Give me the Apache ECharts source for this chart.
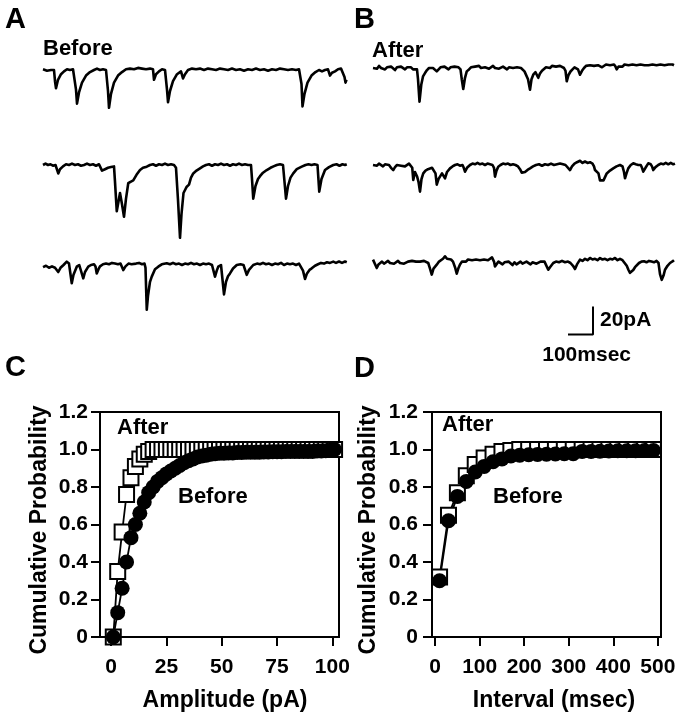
<!DOCTYPE html>
<html><head><meta charset="utf-8">
<script src="https://cdn.jsdelivr.net/npm/echarts@6/dist/echarts.min.js"></script>
<style>html,body{margin:0;padding:0;background:#fff}#c{width:679px;height:719px}</style>
</head><body><div id="c"></div>
<script>
// ---- Traces: [time (ms), current (pA)] ----
const traceA1 = [[0,0.5],[8,1],[16,-0.5],[24,0.5],[32,0],[40,-0.5],[44,0],[48,-8],[52,-13],[60,-7],[72,-3],[84,-1],[96,0.5],[108,0],[120,0.5],[128,0],[132,-14],[136,-24],[144,-16],[156,-9],[172,-4],[188,-1.5],[204,0],[216,1],[228,0],[240,0.5],[252,0],[256,0],[260,-15],[264,-27],[272,-17],[284,-9],[300,-4],[316,-1.5],[332,0.5],[348,1],[364,0.5],[380,1.5],[396,1],[412,0.5],[428,1],[436,0],[440,0.5],[444,-7],[452,-3],[464,-1],[476,0.5],[488,0],[492,0],[496,-14],[500,-23],[508,-15],[520,-8],[536,-3],[552,-1],[560,-6],[568,-3],[580,0],[596,1],[612,0.5],[628,1],[644,0],[660,1],[676,0.5],[692,0],[708,1],[724,0.5],[740,0],[756,1],[772,0],[788,0.5],[804,-0.5],[820,0.5],[836,0],[852,1],[868,0],[884,0.5],[900,-0.5],[916,0.5],[932,0],[948,1],[964,0.5],[980,0],[996,0.5],[1012,0],[1024,0.5],[1030,0],[1034,-10],[1038,-26],[1046,-17],[1058,-9],[1074,-4],[1090,-1.5],[1104,0],[1116,-1],[1128,0],[1140,0.5],[1148,-4],[1156,-2],[1168,-1],[1180,0.5],[1192,1],[1200,0.5],[1206,-5],[1210,-9],[1214,-7]];
const traceA2 = [[0,0],[10,1],[20,0],[30,0.5],[40,-0.5],[50,0],[56,-1],[61,-6],[68,-3],[80,-1],[92,0.5],[104,0],[116,1],[128,0],[140,0.5],[152,-0.5],[164,0],[176,1],[188,0],[200,0.5],[212,-0.5],[224,0.5],[232,0],[236,-4],[248,-3],[260,-2],[272,-1.5],[284,-1],[288,-12],[295,-33],[302,-26],[308,-20],[316,-28],[324,-37],[332,-24],[341,-13],[350,-12],[361,-11],[374,-7],[388,-3.6],[400,-2],[415,-1.2],[428,0],[440,0.5],[452,-0.5],[464,0.5],[476,0],[488,1],[500,0],[512,0.5],[524,0],[532,-2],[540,-25],[548,-52],[554,-35],[562,-20],[575,-15.5],[584,-14],[592,-9],[601,-6],[614,-4],[628,-2.4],[640,-1],[652,0],[664,0.5],[676,-0.5],[688,0.5],[700,0],[712,1],[724,0],[736,0.5],[748,-0.5],[760,0.5],[772,0],[784,1],[796,0],[808,0.5],[820,0],[832,0],[836,-10],[841,-24],[850,-15],[860,-10],[868,-8],[880,-5.5],[895,-3.6],[910,-2],[922,-1],[935,0],[948,0.5],[960,0],[968,0],[972,-24],[980,-15],[990,-9],[1001,-6],[1015,-3],[1035,-1.2],[1050,0],[1062,0.5],[1074,0],[1086,0.5],[1098,0],[1105,-19],[1114,-10],[1128,-3.6],[1144,-1.5],[1161,0],[1174,0.5],[1186,-0.5],[1198,0.5],[1208,0],[1215,0.5]];
const traceA3 = [[0,-1.5],[12,-0.5],[24,-2],[36,-1],[48,-2],[56,-3],[61,-5],[70,-2],[82,0],[95,2.4],[104,1],[110,0],[115,-13],[122,-7],[135,-1.2],[145,0],[152,-1],[161,-9.5],[168,-5],[181,-1.2],[192,0],[204,0.5],[210,-1],[215,-6],[222,-3],[228,-1],[240,0.5],[252,1],[264,0.5],[276,1.5],[288,1],[300,0.5],[310,1],[321,-3.6],[330,-1],[342,1],[354,0.5],[361,1.2],[372,1],[384,1.5],[396,0.5],[406,1],[410,-2],[415,-32],[420,-22],[428,-12],[435,-8.3],[448,-3],[461,-1.2],[475,0.5],[495,1.2],[508,0.5],[520,1.5],[532,0.5],[544,1],[556,0],[568,1],[580,0.5],[592,1.5],[604,0.5],[616,1],[628,0],[640,1],[652,0.5],[664,1],[676,0],[681,-1],[688,-8.3],[695,-4],[701,-1.2],[712,0],[718,-1],[724,-21],[732,-12],[740,-8],[748,-6],[760,-2.5],[775,0],[790,0.5],[802,0],[810,-1],[815,-7],[824,-3.5],[841,0],[856,1],[868,0.5],[880,1.5],[892,0.5],[904,1],[916,0],[928,1],[940,0.5],[952,1.5],[964,0],[976,1],[988,0.5],[1000,1],[1012,0],[1024,1],[1032,0.5],[1040,-4],[1048,-10],[1056,-6],[1066,-3.5],[1075,-2.4],[1088,-0.5],[1100,0.5],[1112,1.5],[1124,1],[1136,2],[1148,1.5],[1161,2.4],[1172,1.5],[1184,2.5],[1196,1.5],[1208,2.5],[1215,2]];
const traceB1 = [[0,0],[8,1],[16,-0.5],[24,1.5],[32,0],[40,1],[48,-1],[56,0.5],[64,-0.5],[72,1],[80,0],[88,-1.5],[96,0.5],[104,-0.5],[112,1],[120,0],[128,-1],[136,0.5],[144,-0.5],[152,0.5],[160,-1],[168,-2],[176,-1],[180,-8],[186,-24],[193,-12],[200,-6],[208,-3.6],[216,-1.5],[224,0],[232,1],[240,0],[248,-1],[255,-2.4],[262,-1],[270,0.5],[278,-0.5],[286,1],[294,0],[302,-1],[310,0.5],[318,-0.5],[326,1],[334,0],[342,0.5],[350,-1],[355,-8],[361,-15],[368,-7],[375,-2.4],[384,-1],[392,0.5],[400,-0.5],[408,1],[416,0],[424,1.5],[432,0],[440,-1],[448,0.5],[456,1],[464,-0.5],[472,0.5],[480,1.5],[488,0],[496,1],[504,-0.5],[512,0.5],[520,1],[528,0],[536,-1],[544,0.5],[552,1],[560,0],[568,-0.5],[576,0.5],[584,1],[592,0],[600,-1],[606,-2.4],[614,-3],[620,-8],[628,-15.5],[634,-8],[641,-4.8],[650,-3],[661,-7],[668,-4],[676,-2],[684,-1],[692,0.5],[700,1],[708,0],[716,1.5],[724,0.5],[732,1],[740,0],[748,1.5],[756,0.5],[764,0],[770,-2],[775,-9.5],[782,-5],[790,-2.5],[798,-1],[806,0.5],[814,0],[820,-1],[828,-4.8],[836,-2],[844,0],[852,1.5],[860,0.5],[868,2],[876,1],[884,1.5],[892,0.5],[900,2],[908,1],[916,0.5],[924,1.5],[932,2.5],[940,1.5],[948,2],[956,1],[964,2.5],[970,1],[975,-1],[982,1],[990,2],[998,1],[1006,2.5],[1014,1.5],[1022,2],[1030,1],[1038,2.5],[1046,1.5],[1054,2],[1062,1],[1070,2.5],[1078,1.5],[1086,2],[1094,1],[1102,2],[1110,1.5],[1118,2.5],[1126,1.5],[1134,2],[1142,1],[1150,2.5],[1158,1.5],[1166,2],[1174,1.5],[1182,2.5],[1190,1.5],[1198,2.5],[1204,2]];
const traceB2 = [[0,0],[8,1],[16,-0.5],[24,1],[32,0],[40,-1],[48,0.5],[56,-0.5],[64,0],[72,-2],[81,-3.6],[88,-1.5],[96,0],[104,1],[112,-0.5],[120,0.5],[128,-1],[136,0],[144,1],[152,0],[157,-2],[161,-10.7],[168,-5],[176,-8],[182,-12],[188,-19],[194,-10],[201,-6],[210,-4],[220,-3],[228,-3.6],[236,-2],[244,-3],[250,-6],[255,-14],[262,-10],[268,-8.3],[276,-6],[282,-5],[288,-9.5],[296,-5],[308,-2.4],[318,-1],[328,0],[338,0.5],[348,-0.5],[358,0],[363,-2],[368,-4.8],[376,-2],[388,0],[398,1],[408,0.5],[418,1.5],[428,0.5],[438,1],[448,0],[458,1],[468,0.5],[478,0],[484,-2],[488,-8.3],[494,-4],[501,-1.2],[510,0],[520,1],[530,0.5],[540,1],[550,0],[560,0.5],[570,0],[580,-1],[588,-3],[595,-5.5],[608,-5],[618,-3.5],[628,-2.4],[640,-1],[652,0],[664,0.5],[676,-0.5],[688,0.5],[700,0],[712,1],[724,0],[736,0.5],[748,1],[760,0.5],[770,0],[778,-1],[788,-3.6],[796,-1],[806,1],[816,2],[828,3],[838,1.5],[848,2.5],[858,1.5],[868,2],[878,1],[884,-1],[888,-3.6],[896,-3],[902,-6],[908,-11],[916,-12],[922,-11],[928,-10],[935,-6],[948,-4],[961,-2.4],[974,-1],[988,0],[998,-1],[1004,-5],[1008,-9.5],[1014,-6],[1021,-2.4],[1031,0],[1041,1.2],[1051,0.5],[1061,0],[1071,0],[1076,-2],[1081,-4.8],[1090,-2],[1101,1.2],[1111,0.5],[1116,-1],[1121,-3.6],[1130,-1.5],[1141,0],[1151,1],[1161,0.5],[1171,1.5],[1181,0.5],[1191,1.5],[1201,0.5],[1208,1]];
const traceB3 = [[0,2.4],[6,1],[15,-3.6],[22,-1],[28,0],[36,1],[44,-0.5],[52,0.5],[60,1.5],[68,0],[76,1],[84,-0.5],[92,0.5],[100,1.5],[108,0],[116,1],[124,-0.5],[132,0.5],[140,1],[148,0],[156,1.5],[164,0.5],[172,1],[180,0],[188,1],[196,0.5],[204,1.5],[212,0.5],[221,0],[228,-4],[235,-8.3],[242,-4],[255,-1.2],[264,1],[272,2],[280,3],[288,4.8],[296,3],[304,2],[312,2.5],[320,1],[328,-3],[335,-7.6],[342,-3.5],[348,-1],[356,1],[364,2],[372,1],[380,2.5],[388,1.5],[396,2],[404,1],[412,2.5],[420,1.5],[428,2],[436,1],[444,2.5],[452,3],[460,2],[468,3],[476,4],[484,1],[488,-2.4],[495,-1],[502,1],[510,0],[518,-1],[526,0.5],[534,-0.5],[542,1],[550,0],[558,-1.5],[566,0.5],[574,-1],[582,0],[590,1],[598,-0.5],[606,0.5],[614,1],[622,0],[630,-1],[638,0.5],[646,1],[654,-0.5],[662,0.5],[670,1],[678,0],[686,1],[694,0],[701,-4.8],[708,-3],[721,0],[732,1],[744,0.5],[756,1.5],[768,0.5],[780,1],[790,0],[800,-2],[808,-4.3],[816,-1],[828,2.4],[838,1.5],[848,3],[858,2],[868,3.6],[878,2.5],[888,3],[898,2],[908,3.5],[918,2.5],[928,3],[938,2],[948,3],[958,2.5],[968,3.6],[978,2],[988,3],[998,2],[1006,1],[1015,-2],[1022,-5],[1028,-7],[1035,-6.5],[1041,-5],[1048,-3],[1055,-2.4],[1064,0],[1074,1],[1084,1.2],[1094,0.5],[1104,1.5],[1114,1],[1124,0.5],[1134,1.5],[1142,0],[1148,-8],[1155,-12],[1162,-9],[1168,-4.8],[1178,-2],[1188,0],[1196,1.2],[1201,1.5],[1204,2]];

// Scale bar (100 msec, 20 pA) in trace units
const scaleBarT = [780, 880, 880];
const scaleBarPA = [-51, -51, -31];

// ---- Cumulative amplitude distribution ----
const ampBins = [1,3,5,7,9,11,13,15,17,19,21,23,25,27,29,31,33,35,37,39,41,43,45,47,49,51,53,55,57,59,61,63,65,67,69,71,73,75,77,79,81,83,85,87,89,91,93,95,97,99,101];
const afterAmp = [0,0.35,0.56,0.76,0.85,0.91,0.95,0.975,0.99,1, 1,1,1,1,1,1,1,1,1,1, 1,1,1,1,1,1,1,1,1,1, 1,1,1,1,1,1,1,1,1,1, 1,1,1,1,1,1,1,1,1,1, 1];
const beforeAmp = [0,0.13,0.26,0.40,0.53,0.60,0.66,0.72,0.77,0.80,0.83,0.85,0.87,0.885,0.90,0.915,0.93,0.94,0.95,0.96,0.965,0.97,0.975,0.978,0.98,0.98,0.982,0.982,0.984,0.984,0.985,0.985,0.986,0.986,0.987,0.987,0.988,0.988,0.988,0.989,0.989,0.99,0.99,0.99,0.99,0.99,0.992,0.992,0.994,0.996,1.0];

// ---- Cumulative interval distribution ----
const intervalBins = [10,30,50,70,90,110,130,150,170,190,210,230,250,270,290,310,330,350,370,390,410,430,450,470,490];
const afterInterval = [0.32,0.65,0.77,0.86,0.92,0.955,0.975,0.99,0.995,1,1,1,1,1,1,1,1,1,1,1,1,1,1,1,1];
const beforeInterval = [0.30,0.62,0.75,0.83,0.88,0.91,0.935,0.95,0.965,0.97,0.972,0.974,0.975,0.976,0.977,0.978,0.99,0.99,0.991,0.992,0.993,0.993,0.994,0.995,0.995];

// tick labels
const ampTicks = [0,25,50,75,100];
const intervalTicks = [0,100,200,300,400,500];
const probTicks = [0,0.2,0.4,0.6,0.8,1.0,1.2];

const FONT = '"Liberation Sans", Arial, Helvetica, sans-serif';
const pairs = (xs, ys) => xs.map((x, i) => [x, ys[i]]);

const traces = [traceA1, traceA2, traceA3, traceB1, traceB2, traceB3];
const traceBoxes = [
  {left: 43, top: 56}, {left: 43, top: 151}, {left: 43, top: 251},
  {left: 373, top: 54}, {left: 373, top: 151}, {left: 373, top: 249}
];

const grid = [], xAxis = [], yAxis = [], series = [];
traceBoxes.forEach((b, i) => {
  grid.push({left: b.left, top: b.top, width: 304, height: 98, outerBoundsMode: 'none'});
  xAxis.push({gridIndex: i, type: 'value', min: 0, max: 1216, show: false});
  yAxis.push({gridIndex: i, type: 'value', min: -60, max: 10, show: false});
  series.push({type: 'line', xAxisIndex: i, yAxisIndex: i, data: traces[i], showSymbol: false,
    lineStyle: {color: '#000', width: 2.6, join: 'round'}, silent: true, clip: false});
});
series.push({type: 'line', xAxisIndex: 5, yAxisIndex: 5, data: pairs(scaleBarT, scaleBarPA),
  showSymbol: false, lineStyle: {color: '#000', width: 2}, silent: true, clip: false});

const axisCommon = {
  axisLine: {show: true, onZero: false, lineStyle: {color: '#000', width: 2}},
  splitLine: {show: false}
};
function tickLabel(margin) {
  return {color: '#000', fontSize: 21, fontWeight: 'bold', fontFamily: FONT, margin: margin};
}
// Panel C
grid.push({left: 100, top: 412, width: 239, height: 225, show: true, borderColor: '#000', borderWidth: 2, backgroundColor: 'transparent', outerBoundsMode: 'none'});
// Panel D
grid.push({left: 432, top: 412, width: 229, height: 225, show: true, borderColor: '#000', borderWidth: 2, backgroundColor: 'transparent', outerBoundsMode: 'none'});

xAxis.push(Object.assign({gridIndex: 6, type: 'value', min: -5, max: 103,
  axisTick: {show: true, inside: false, length: 9, lineStyle: {color: '#000', width: 2}, customValues: ampTicks},
  axisLabel: Object.assign(tickLabel(20), {customValues: ampTicks})}, axisCommon));
xAxis.push(Object.assign({gridIndex: 7, type: 'value', min: -7, max: 507,
  axisTick: {show: true, inside: false, length: 9, lineStyle: {color: '#000', width: 2}, customValues: intervalTicks},
  axisLabel: Object.assign(tickLabel(20), {customValues: intervalTicks})}, axisCommon));
[6, 7].forEach(g => {
  yAxis.push(Object.assign({gridIndex: g, type: 'value', min: 0, max: 1.2,
    axisTick: {show: true, inside: false, length: 9, lineStyle: {color: '#000', width: 2}, customValues: probTicks},
    axisLabel: Object.assign(tickLabel(g === 6 ? 12 : 14), {customValues: probTicks,
      formatter: v => (v === 0 ? '0' : v.toFixed(1))})}, axisCommon));
});

function cdfSeries(g, data, filled) {
  return {type: 'line', xAxisIndex: g, yAxisIndex: g, data: data,
    symbol: filled ? 'circle' : 'rect', symbolSize: 15, showSymbol: true, showAllSymbol: true,
    clip: false, silent: true,
    itemStyle: filled ? {color: '#000', borderWidth: 0} : {color: '#fff', borderColor: '#000', borderWidth: 2},
    lineStyle: {color: '#000', width: 1.8}};
}
series.push(cdfSeries(6, pairs(ampBins, afterAmp), false));
series.push(cdfSeries(6, pairs(ampBins, beforeAmp), true));
series.push(cdfSeries(7, pairs(intervalBins, afterInterval), false));
series.push(cdfSeries(7, pairs(intervalBins, beforeInterval), true));

function txt(text, x, y, size, align, rot) {
  return {type: 'text', x: x, y: y, rotation: rot || 0, silent: true,
    style: {text: text, fill: '#000', fontSize: size, fontWeight: 'bold', fontFamily: FONT,
      textAlign: align || 'left', textVerticalAlign: 'middle'}};
}
const graphic = [
  txt('A', 5, 20, 29), txt('B', 354, 20, 29), txt('C', 5, 368, 29), txt('D', 354, 369, 29),
  txt('Before', 43, 49, 22), txt('After', 372, 51, 22),
  txt('20pA', 600, 320, 21), txt('100msec', 631, 355, 21, 'right'),
  txt('After', 117, 428, 22), txt('Before', 178, 497, 22),
  txt('After', 442, 425, 22), txt('Before', 493, 497, 22),
  txt('Cumulative Probability', 40, 530, 23, 'center', Math.PI / 2),
  txt('Cumulative Probability', 369, 530, 23, 'center', Math.PI / 2),
  txt('Amplitude (pA)', 225, 701, 23, 'center'),
  txt('Interval (msec)', 554, 701, 23, 'center')
];

const chart = echarts.init(document.getElementById('c'), null, {renderer: 'canvas'});
chart.setOption({animation: false, backgroundColor: '#fff', grid, xAxis, yAxis, series, graphic});
</script></body></html>
